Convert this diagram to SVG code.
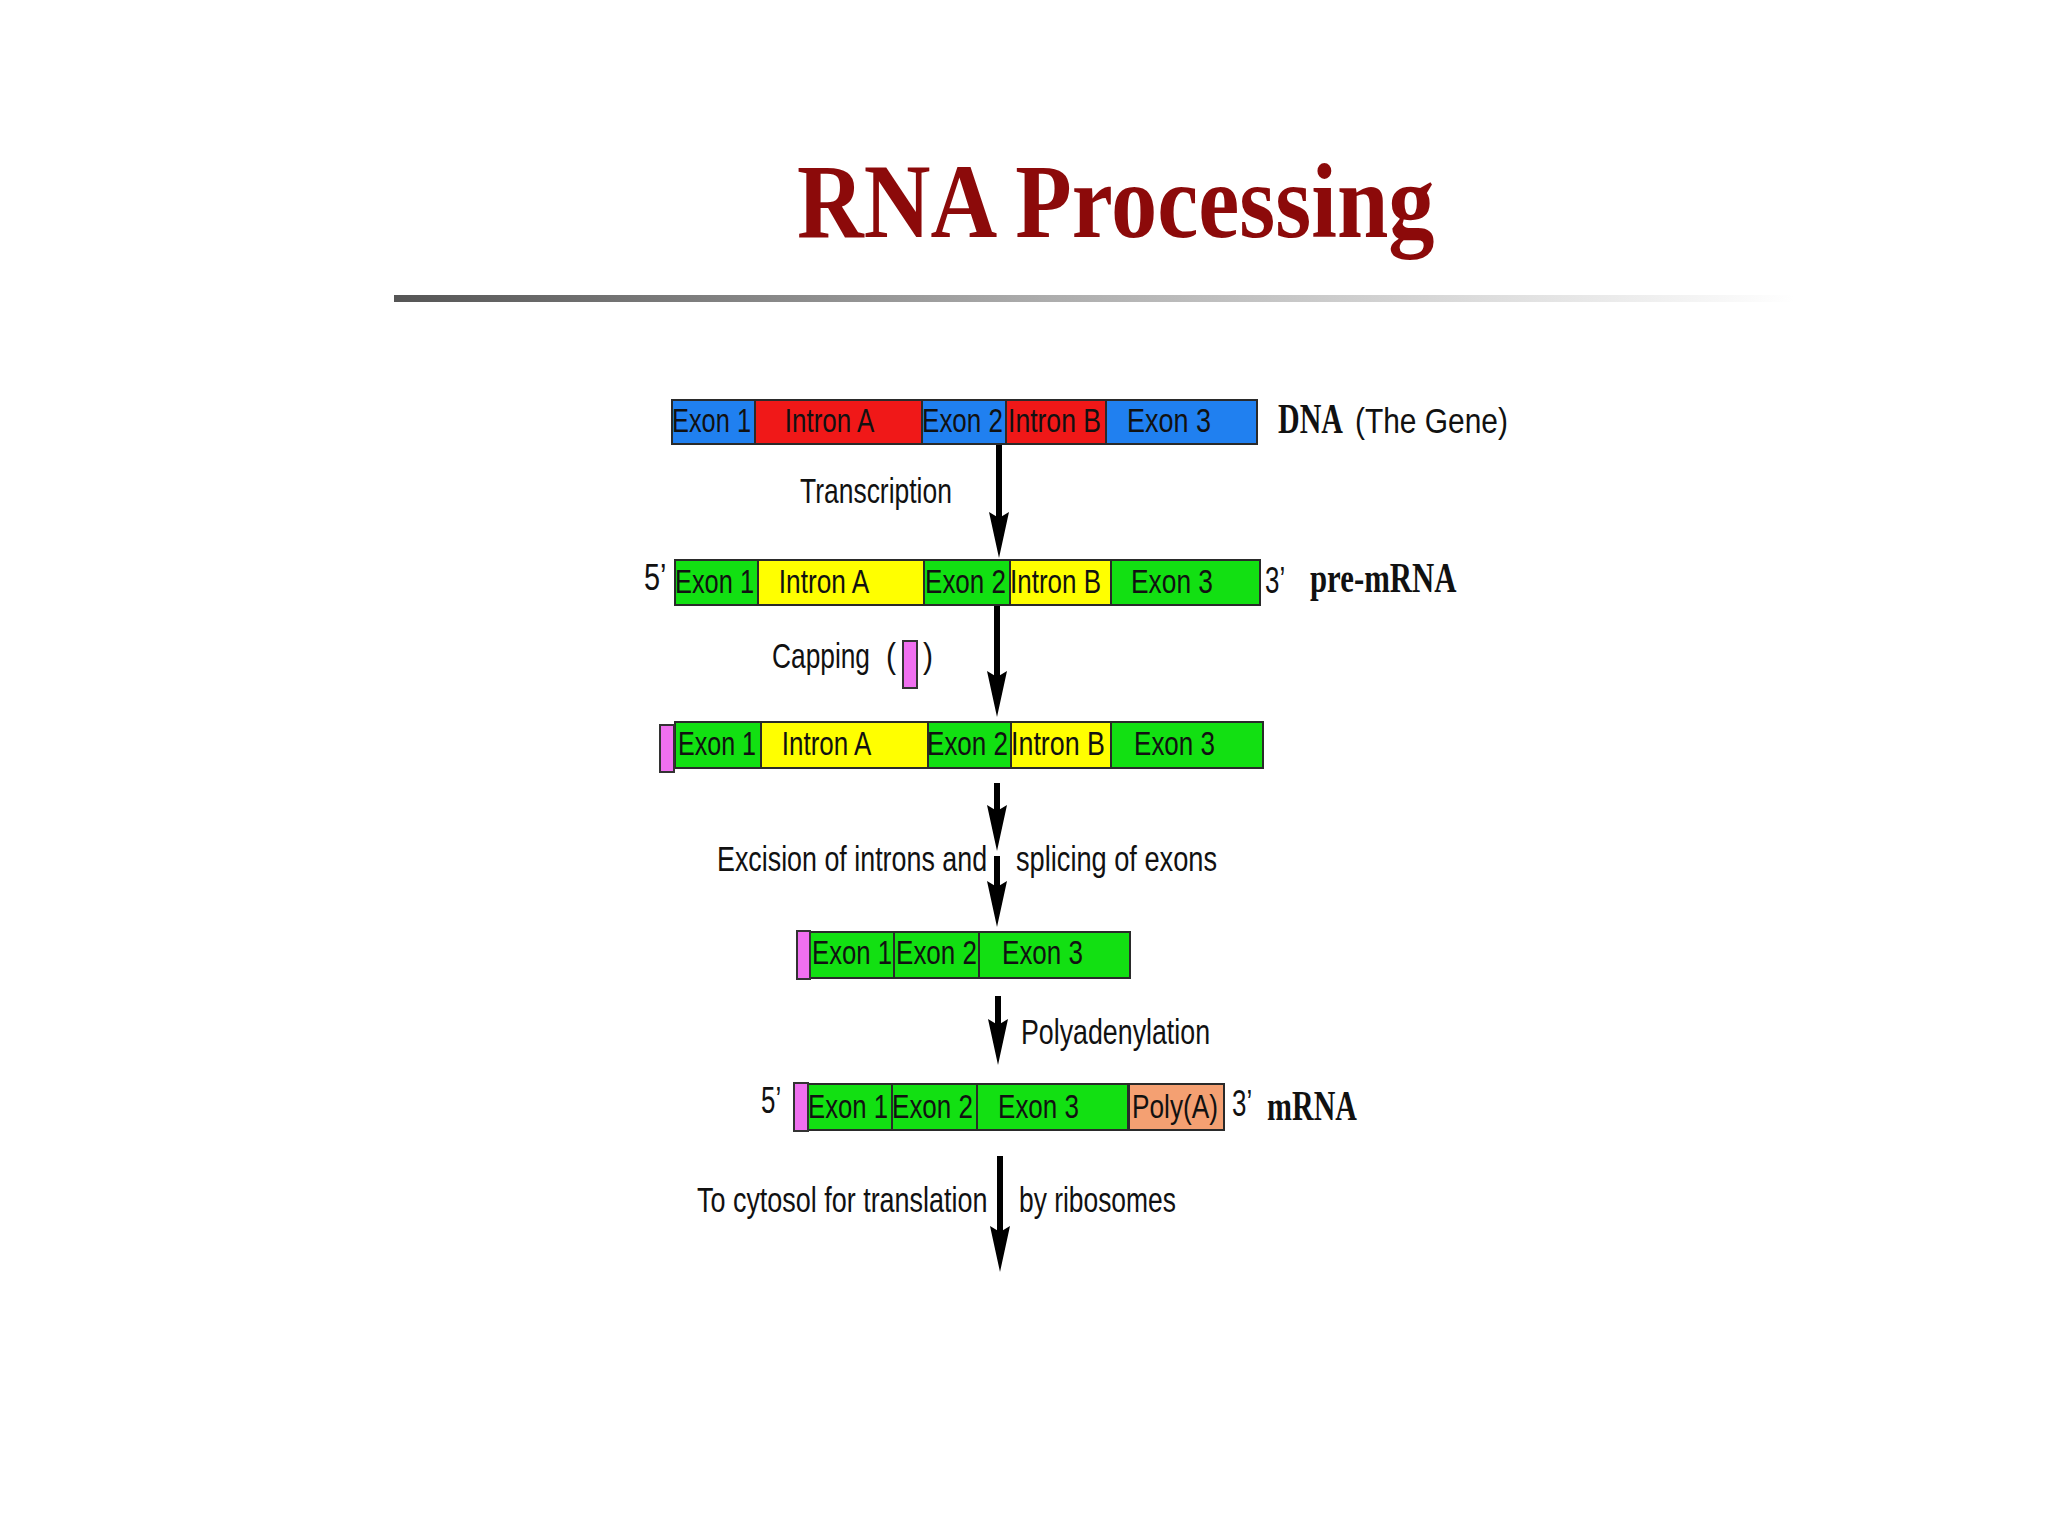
<svg xmlns="http://www.w3.org/2000/svg" width="2048" height="1535" viewBox="0 0 2048 1535">
<defs>
<linearGradient id="rule" x1="0" y1="0" x2="1" y2="0">
<stop offset="0" stop-color="#555555"/>
<stop offset="0.45" stop-color="#aaaaaa"/>
<stop offset="1" stop-color="#ffffff"/>
</linearGradient>
<marker id="head" markerUnits="userSpaceOnUse" viewBox="0 0 46 20" markerWidth="46" markerHeight="20" refX="24" refY="10" orient="auto">
<path d="M0,0 L46,10 L0,20 L6,10 z" fill="#000"/>
</marker>
<style>
.bar{stroke:#2a2a2a;stroke-width:2}
.blue{fill:#2080F0}
.red{fill:#F01818}
.green{fill:#12E012}
.yellow{fill:#FFFF00}
.pink{fill:#F070F0;stroke:#333;stroke-width:2}
.orange{fill:#F4A072}
.seg{font-family:"Liberation Sans",Arial,sans-serif;font-size:33px;fill:#111;text-anchor:middle}
.lbl{font-family:"Liberation Sans",Arial,sans-serif;font-size:35px;fill:#111}
.prime{font-family:"Liberation Sans",Arial,sans-serif;font-size:37px;fill:#111}
.bold{font-family:"Liberation Serif","Times New Roman",serif;font-weight:bold;font-size:42px;fill:#111}
.ttl{font-family:"Liberation Serif","Times New Roman",serif;font-weight:bold;font-size:106px;fill:#8C0A0A}
.arrow{stroke:#000;stroke-width:6;fill:none;marker-end:url(#head)}
</style>
</defs>
<rect width="2048" height="1535" fill="#ffffff"/>

<g id="title">
<text class="ttl" transform="translate(797,237) scale(0.872,1)">RNA Processing</text>
<rect x="394" y="295" width="1400" height="7" fill="url(#rule)"/>
</g>

<g id="dna">
<rect class="bar blue" x="672" y="400" width="83" height="44"/>
<rect class="bar red" x="755" y="400" width="167" height="44"/>
<rect class="bar blue" x="922" y="400" width="84" height="44"/>
<rect class="bar red" x="1006" y="400" width="100" height="44"/>
<rect class="bar blue" x="1106" y="400" width="151" height="44"/>
<text class="seg" transform="translate(711.5,432) scale(0.769,1)">Exon 1</text>
<text class="seg" transform="translate(829.5,432) scale(0.787,1)">Intron A</text>
<text class="seg" transform="translate(962.5,432) scale(0.788,1)">Exon 2</text>
<text class="seg" transform="translate(1054.5,432) scale(0.805,1)">Intron B</text>
<text class="seg" transform="translate(1169,432) scale(0.818,1)">Exon 3</text>
<text class="bold" transform="translate(1278,433) scale(0.714,1)">DNA</text>
<text class="lbl" transform="translate(1355,433) scale(0.855,1)">(The Gene)</text>
</g>

<g id="pre-mrna">
<rect class="bar green" x="675" y="560" width="83" height="45"/>
<rect class="bar yellow" x="758" y="560" width="166" height="45"/>
<rect class="bar green" x="924" y="560" width="86" height="45"/>
<rect class="bar yellow" x="1010" y="560" width="101" height="45"/>
<rect class="bar green" x="1111" y="560" width="149" height="45"/>
<text class="seg" transform="translate(714.5,593) scale(0.769,1)">Exon 1</text>
<text class="seg" transform="translate(824,593) scale(0.796,1)">Intron A</text>
<text class="seg" transform="translate(965.5,593) scale(0.788,1)">Exon 2</text>
<text class="seg" transform="translate(1055.5,593) scale(0.787,1)">Intron B</text>
<text class="seg" transform="translate(1172,593) scale(0.798,1)">Exon 3</text>
<text class="prime" transform="translate(644,590) scale(0.78,1)">5’</text>
<text class="prime" transform="translate(1265,593) scale(0.7,1)">3’</text>
<text class="bold" transform="translate(1310,592) scale(0.733,1)">pre-mRNA</text>
</g>

<g id="capped">
<rect class="bar green" x="675" y="722" width="86" height="46"/>
<rect class="bar yellow" x="761" y="722" width="167" height="46"/>
<rect class="bar green" x="928" y="722" width="83" height="46"/>
<rect class="bar yellow" x="1011" y="722" width="100" height="46"/>
<rect class="bar green" x="1111" y="722" width="152" height="46"/>
<rect class="pink" x="660" y="725" width="14" height="47"/>
<text class="seg" transform="translate(717,755) scale(0.759,1)">Exon 1</text>
<text class="seg" transform="translate(826.5,755) scale(0.787,1)">Intron A</text>
<text class="seg" transform="translate(967.5,755) scale(0.788,1)">Exon 2</text>
<text class="seg" transform="translate(1058,755) scale(0.813,1)">Intron B</text>
<text class="seg" transform="translate(1174.5,755) scale(0.788,1)">Exon 3</text>
</g>

<g id="spliced">
<rect class="bar green" x="810" y="932" width="84" height="46"/>
<rect class="bar green" x="894" y="932" width="85" height="46"/>
<rect class="bar green" x="979" y="932" width="151" height="46"/>
<rect class="pink" x="797" y="931" width="13" height="48"/>
<text class="seg" transform="translate(852,964) scale(0.779,1)">Exon 1</text>
<text class="seg" transform="translate(936.5,964) scale(0.788,1)">Exon 2</text>
<text class="seg" transform="translate(1042.5,964) scale(0.788,1)">Exon 3</text>
</g>

<g id="mrna">
<rect class="bar green" x="808" y="1084" width="84" height="46"/>
<rect class="bar green" x="892" y="1084" width="85" height="46"/>
<rect class="bar green" x="977" y="1084" width="151" height="46"/>
<rect class="bar orange" x="1129" y="1084" width="95" height="46"/>
<rect class="pink" x="794" y="1083" width="14" height="48"/>
<text class="seg" transform="translate(848,1118) scale(0.779,1)">Exon 1</text>
<text class="seg" transform="translate(932.5,1118) scale(0.788,1)">Exon 2</text>
<text class="seg" transform="translate(1038.5,1118) scale(0.788,1)">Exon 3</text>
<text class="seg" transform="translate(1175,1118) scale(0.795,1)">Poly(A)</text>
<text class="prime" transform="translate(761,1113) scale(0.7,1)">5’</text>
<text class="prime" transform="translate(1232,1116) scale(0.7,1)">3’</text>
<text class="bold" transform="translate(1267,1120) scale(0.714,1)">mRNA</text>
</g>

<g id="connectors">
<path class="arrow" d="M999,445 V536"/>
<path class="arrow" d="M997,606 V695"/>
<path class="arrow" d="M997,783 V829"/>
<path class="arrow" d="M997,856 V905"/>
<path class="arrow" d="M998,996 V1043"/>
<path class="arrow" d="M1000,1156 V1250"/>
</g>

<g id="labels">
<text class="lbl" transform="translate(800,503) scale(0.756,1)">Transcription</text>
<text class="lbl" transform="translate(772,668) scale(0.752,1)">Capping</text>
<text class="lbl" transform="translate(886,668) scale(0.86,1)">(</text>
<rect class="pink" x="903" y="641" width="14" height="47"/>
<text class="lbl" transform="translate(923,668) scale(0.86,1)">)</text>
<text class="lbl" transform="translate(717,871) scale(0.767,1)">Excision of introns and</text>
<text class="lbl" transform="translate(1016,871) scale(0.777,1)">splicing of exons</text>
<text class="lbl" transform="translate(1021,1044) scale(0.765,1)">Polyadenylation</text>
<text class="lbl" transform="translate(697,1212) scale(0.770,1)">To cytosol for translation</text>
<text class="lbl" transform="translate(1019,1212) scale(0.754,1)">by ribosomes</text>
</g>
</svg>
